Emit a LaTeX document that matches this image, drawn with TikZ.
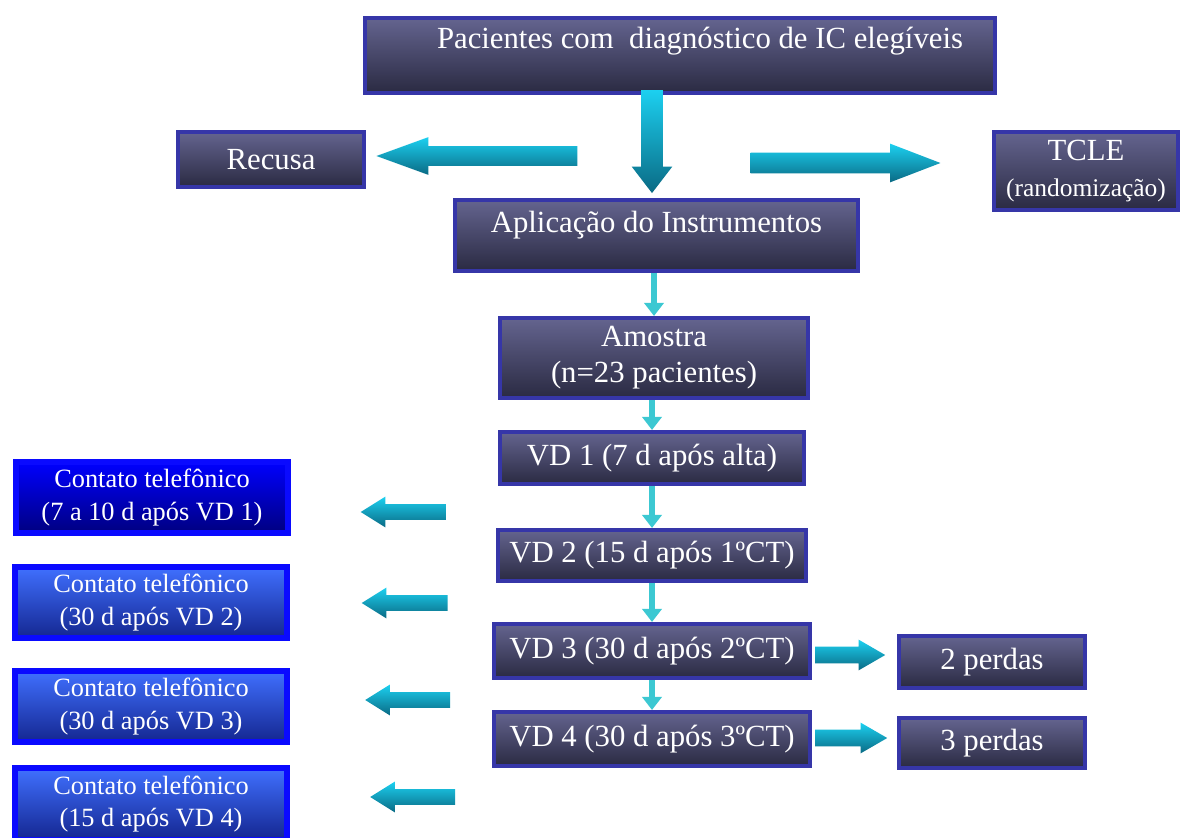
\documentclass[tikz,border=0pt]{standalone}
\usepackage{fontspec}
\setmainfont{Liberation Serif}
\usetikzlibrary{shapes.arrows, arrows.meta, positioning}
\definecolor{boxtop}{HTML}{64648F}
\definecolor{boxbottom}{HTML}{2A2A42}
\definecolor{boxline}{HTML}{3636A8}
\definecolor{ctline}{HTML}{0A0AFF}
\definecolor{cttop}{HTML}{4070FF}
\definecolor{ctbottom}{HTML}{142690}
\definecolor{fattop}{HTML}{1CD0F0}
\definecolor{fatbottom}{HTML}{0A6A84}
\definecolor{thinline}{HTML}{3CC8D2}
\tikzstyle{stagebox} = [rectangle, draw=boxline, line width=2.3pt, top color=boxtop, bottom color=boxbottom, text=white, font=\fontsize{17.5}{20.5}\selectfont, align=center, text centered]
\tikzstyle{contactbox} = [rectangle, draw=ctline, line width=3.2pt, top color=cttop, bottom color=ctbottom, text=white, font=\fontsize{15}{18.5}\selectfont, align=center, minimum width=5.43cm, minimum height=1.43cm]
\tikzstyle{fatarrow} = [single arrow, single arrow head indent=0pt, inner xsep=0pt, top color=fattop, bottom color=fatbottom, draw=none]
\tikzstyle{thinarrow} = [draw=thinline, line width=3.4pt, -{Triangle[width=11pt,length=7.5pt]}]

\begin{document}
\begin{tikzpicture}[x=0.02cm, y=-0.02cm]
    \path[use as bounding box, fill=white] (0,0) rectangle (1187,838);

    % main column
    \node (elegiveis) [stagebox, minimum width=12.6cm, minimum height=1.5cm, text depth=0.72cm] at (680,55.5) {\hspace*{0.8cm}Pacientes com \ diagnóstico de IC elegíveis};
    \node (recusa) [stagebox, minimum width=3.72cm, minimum height=1.1cm] at (271,159.5) {Recusa};
    \node (tcle) [stagebox, minimum width=3.68cm, minimum height=1.56cm] at (1086,171) {TCLE\\{\fontsize{14.5}{18}\selectfont(randomização)}};
    \node (aplicacao) [stagebox, minimum width=8.06cm, minimum height=1.42cm, text depth=0.55cm] at (656.5,235.5) {Aplicação do Instrumentos};
    \node (amostra) [stagebox, minimum width=6.16cm, minimum height=1.6cm] at (654,358) {Amostra\\(n=23 pacientes)};
    \node (vd1) [stagebox, minimum width=6.08cm, minimum height=1.04cm] at (652,458) {VD 1 (7 d após alta)};
    \node (vd2) [stagebox, minimum width=6.16cm, minimum height=1.02cm] at (652,555.5) {VD 2 (15 d após 1ºCT)};
    \node (vd3) [stagebox, minimum width=6.32cm, minimum height=1.08cm] at (652,651) {VD 3 (30 d após 2ºCT)};
    \node (vd4) [stagebox, minimum width=6.32cm, minimum height=1.08cm] at (652,739) {VD 4 (30 d após 3ºCT)};
    \node (perdas2) [stagebox, minimum width=3.72cm, minimum height=1.04cm] at (992,662) {2 perdas};
    \node (perdas3) [stagebox, minimum width=3.72cm, minimum height=1.0cm] at (992,743) {3 perdas};

    % phone contacts
    \node (contato1) [contactbox, top color=blue, bottom color=blue!50!black] at (152,497.5) {Contato telefônico\\(7 a 10 d após VD 1)};
    \node (contato2) [contactbox] at (151,602.5) {Contato telefônico\\(30 d após VD 2)};
    \node (contato3) [contactbox] at (151,706.5) {Contato telefônico\\(30 d após VD 3)};
    \node (contato4) [contactbox] at (151,804) {Contato telefônico\\(15 d após VD 4)};

    % fat arrows
    \node (toRecusa) [fatarrow, shape border rotate=180, single arrow tip angle=40, inner ysep=0.19cm, single arrow head extend=0.18cm, minimum height=4.02cm] at (490.5,156) {};
    \node (toTcle) [fatarrow, single arrow tip angle=42, inner ysep=0.2cm, single arrow head extend=0.18cm, minimum height=3.8cm] at (832,163) {};
    \node (toAplicacao) [fatarrow, rotate=-90, single arrow tip angle=75, inner ysep=0.21cm, single arrow head extend=0.19cm, minimum height=2.06cm] at (652,134.5) {};
    \node (toContato1) [fatarrow, shape border rotate=180, single arrow tip angle=64, inner ysep=0.15cm, single arrow head extend=0.15cm, minimum height=1.7cm] at (409.5,512) {};
    \node (toContato2) [fatarrow, shape border rotate=180, single arrow tip angle=64, inner ysep=0.15cm, single arrow head extend=0.15cm, minimum height=1.72cm] at (411,603) {};
    \node (toContato3) [fatarrow, shape border rotate=180, single arrow tip angle=64, inner ysep=0.15cm, single arrow head extend=0.15cm, minimum height=1.7cm] at (414,700) {};
    \node (toContato4) [fatarrow, shape border rotate=180, single arrow tip angle=64, inner ysep=0.15cm, single arrow head extend=0.15cm, minimum height=1.7cm] at (419,797) {};
    \node (toPerdas2) [fatarrow, single arrow tip angle=60, inner ysep=0.16cm, single arrow head extend=0.14cm, minimum height=1.4cm] at (843,655) {};
    \node (toPerdas3) [fatarrow, single arrow tip angle=60, inner ysep=0.16cm, single arrow head extend=0.14cm, minimum height=1.44cm] at (844,738) {};

    % thin arrows
    \draw [thinarrow] (amostra.north |- aplicacao.south) -- (amostra.north);
    \draw [thinarrow] (vd1.north |- amostra.south) -- (vd1.north);
    \draw [thinarrow] (vd1.south) -- (vd2.north);
    \draw [thinarrow] (vd2.south) -- (vd3.north);
    \draw [thinarrow] (vd3.south) -- (vd4.north);
\end{tikzpicture}
\end{document}
